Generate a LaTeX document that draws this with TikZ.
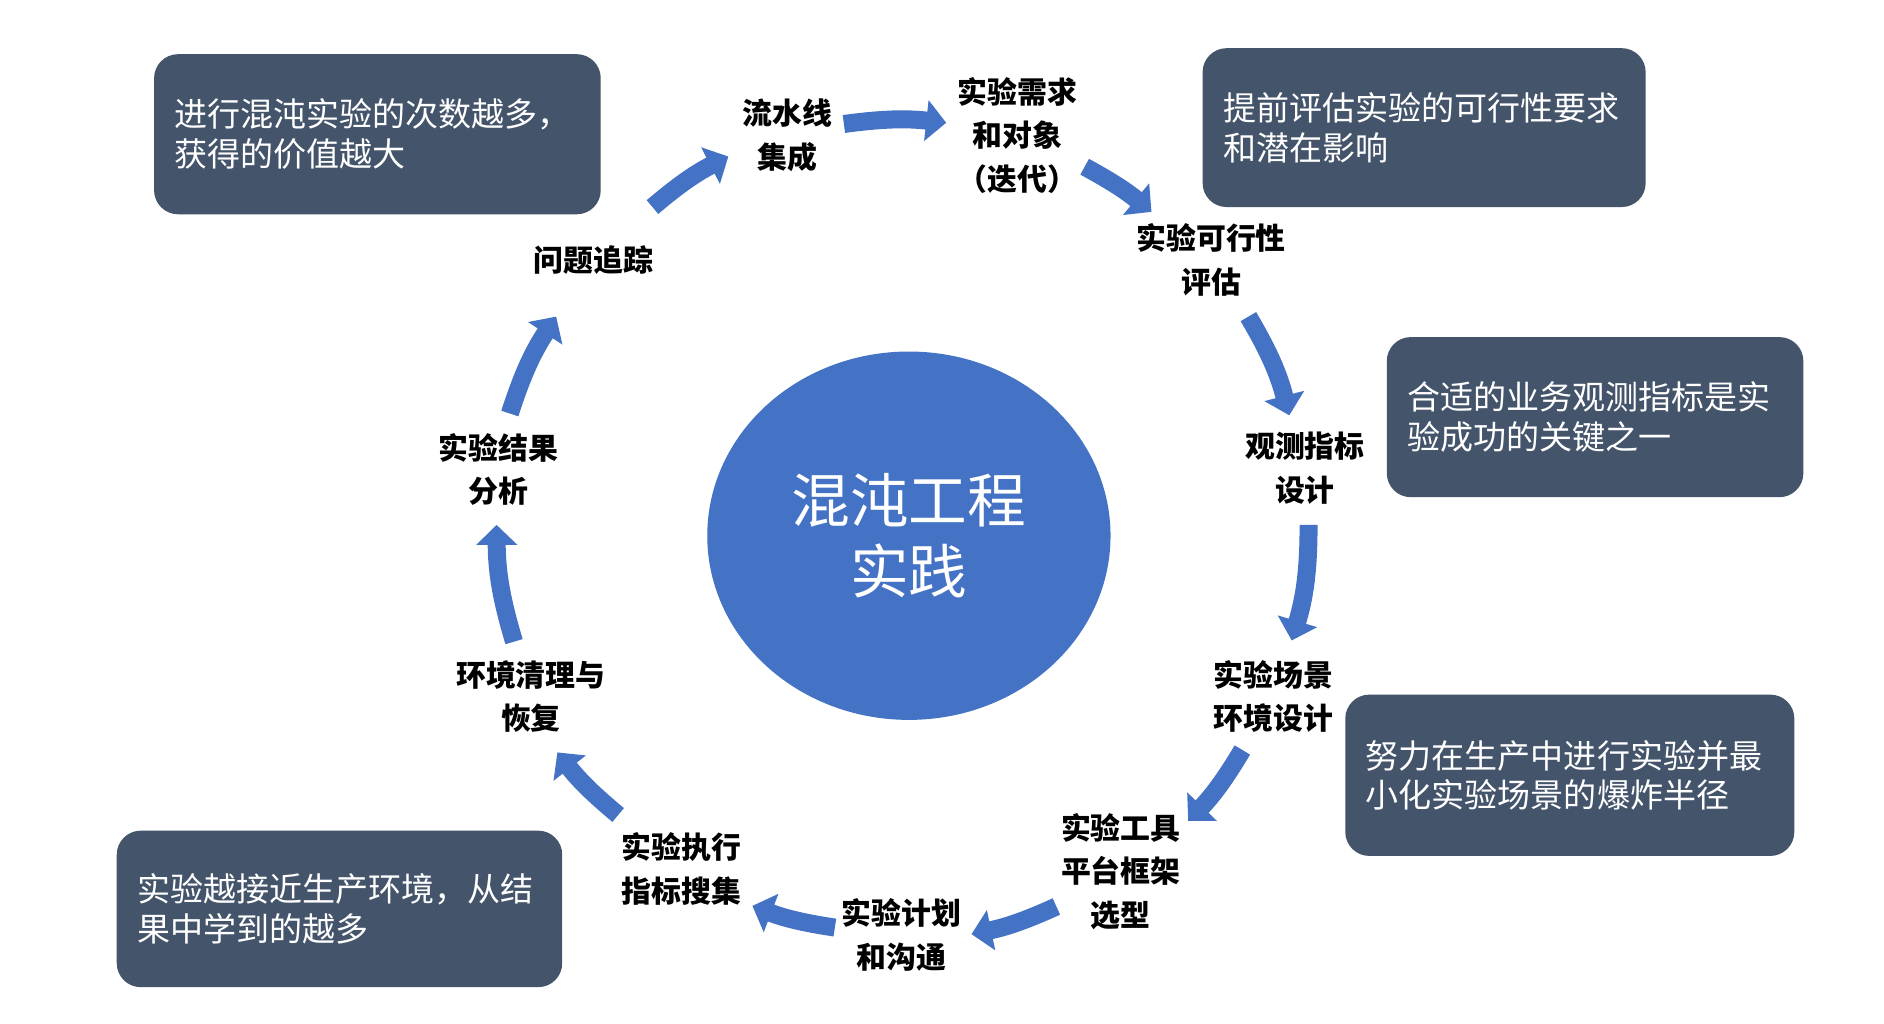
\documentclass[tikz,border=0pt]{standalone}
\usepackage{fontspec}
\newfontfamily\cjk{Noto Sans CJK SC}
\usetikzlibrary{arrows.meta,shapes.geometric}
\definecolor{hubblue}{HTML}{4472C4}
\definecolor{slate}{HTML}{44546A}
\begin{document}
\begin{tikzpicture}[x=0.01204cm,y=0.01204cm,
  stagelbl/.style={font=\cjk\bfseries\fontsize{8.5}{12.4}\selectfont, align=center, inner sep=0pt, text=black},
  notebox/.style={fill=slate, rounded corners=0.24cm, text=white, font=\cjk\fontsize{9.4}{11.3}\selectfont, align=left, inner xsep=0.205cm, inner ysep=0pt},
  flow/.style={draw=hubblue, line width=0.18cm, -{Triangle[length=0.2cm,width=0.4cm]}},
]
\useasboundingbox (0,0) rectangle (1565,850.5);
\fill[white] (0,0) rectangle (1565,850.5);

% note boxes
\node[notebox, minimum width=4.467cm, minimum height=1.601cm, text width=4.057cm] (note1) at (313.5,739) {进行混沌实验的次数越多，\\获得的价值越大};
\node[notebox, minimum width=4.431cm, minimum height=1.589cm, text width=4.021cm] (note2) at (1183,744.5) {提前评估实验的可行性要求\\和潜在影响};
\node[notebox, minimum width=4.166cm, minimum height=1.601cm, text width=3.756cm] (note3) at (1325,504) {合适的业务观测指标是实\\验成功的关键之一};
\node[notebox, minimum width=4.491cm, minimum height=1.613cm, text width=4.081cm] (note4) at (1304,206.5) {努力在生产中进行实验并最\\小化实验场景的爆炸半径};
\node[notebox, minimum width=4.455cm, minimum height=1.565cm, text width=4.045cm] (note5) at (282,95.5) {实验越接近生产环境，从结\\果中学到的越多};

% hub
\node[ellipse, fill=hubblue, minimum width=4.033cm, minimum height=3.684cm, inner sep=0pt, text=white, font=\cjk\fontsize{16.7}{20.3}\selectfont, align=center] (hub) at (755,405.5) {混沌工程\\实践};

% stage labels
\node[stagelbl] (pipe) at (654,738) {流水线\\集成};
\node[stagelbl] (req) at (845,738) {实验需求\\和对象\\（迭代）};
\node[stagelbl] (feas) at (1006,634.5) {实验可行性\\评估};
\node[stagelbl] (obs) at (1084,461.5) {观测指标\\设计};
\node[stagelbl] (scen) at (1058,272) {实验场景\\环境设计};
\node[stagelbl] (tool) at (931,126.5) {实验工具\\平台框架\\选型};
\node[stagelbl] (plan) at (749,74) {实验计划\\和沟通};
\node[stagelbl] (exec) at (566,128.5) {实验执行\\指标搜集};
\node[stagelbl] (clean) at (441,272) {环境清理与\\恢复};
\node[stagelbl] (result) at (414,460.5) {实验结果\\分析};
\node[stagelbl] (issue) at (493,634.5) {问题追踪};

% arrow end points
\coordinate (issueOut) at (542,678.5);   \coordinate (pipeIn) at (605,720.5);
\coordinate (pipeOut) at (701,747.5);    \coordinate (reqIn) at (786,748.5);
\coordinate (reqOut) at (901,712);       \coordinate (feasIn) at (956.5,674.5);
\coordinate (feasOut) at (1037,587.5);   \coordinate (obsIn) at (1071,505.5);
\coordinate (obsOut) at (1087,414.5);    \coordinate (scenIn) at (1073,318.5);
\coordinate (scenOut) at (1032,227.5);   \coordinate (toolIn) at (987,168.5);
\coordinate (toolOut) at (877.5,97.5);   \coordinate (planIn) at (807,74.5);
\coordinate (planOut) at (693.5,80);     \coordinate (execIn) at (625,98);
\coordinate (execOut) at (513.5,173.5);  \coordinate (cleanIn) at (463,225.5);
\coordinate (cleanOut) at (427,317.5);   \coordinate (resultIn) at (412.5,414.5);
\coordinate (resultOut) at (423.5,507);  \coordinate (issueIn) at (462,587.5);

\draw[flow] (issueOut) to[bend left=6.6] (pipeIn);
\draw[flow] (pipeOut) to[bend left=7] (reqIn);
\draw[flow] (reqOut) to[bend left=5.5] (feasIn);
\draw[flow] (feasOut) to[bend left=8] (obsIn);
\draw[flow] (obsOut) to[bend left=8.3] (scenIn);
\draw[flow] (scenOut) to[bend left=6.5] (toolIn);
\draw[flow] (toolOut) to[bend left=6.4] (planIn);
\draw[flow] (planOut) to[bend left=6.2] (execIn);
\draw[flow] (execOut) to[bend left=6.1] (cleanIn);
\draw[flow] (cleanOut) to[bend left=8.2] (resultIn);
\draw[flow] (resultOut) to[bend left=7.7] (issueIn);
\end{tikzpicture}
\end{document}
